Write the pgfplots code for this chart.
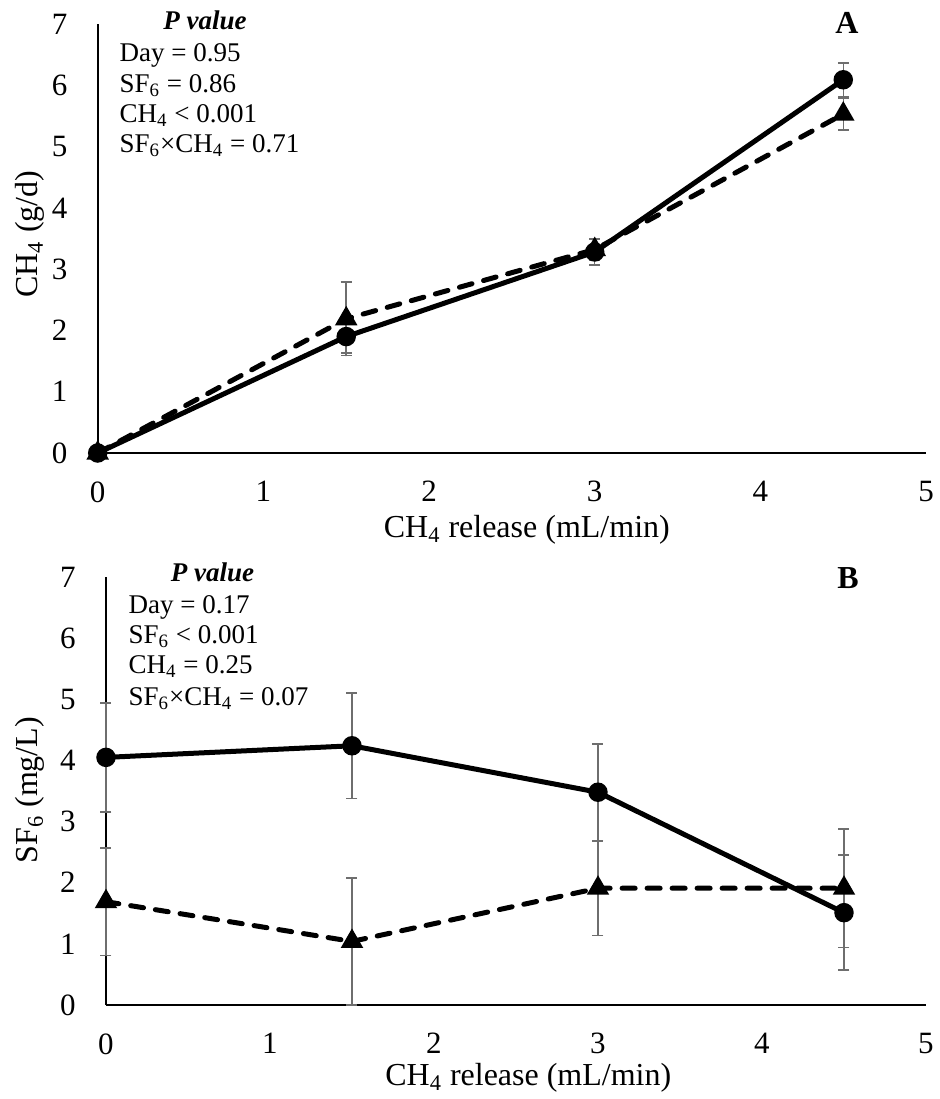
\documentclass[border=0pt]{standalone}
\usepackage{fontspec}
\setmainfont{Liberation Serif}
\usepackage{pgfplots}
\pgfplotsset{compat=1.18}

\definecolor{errgray}{RGB}{110,110,110}

\pgfplotsset{
  panel/.style={
    scale only axis,
    xmin=0, xmax=5, ymin=0, ymax=7,
    axis x line*=bottom, axis y line*=left,
    axis line style={-, line width=1pt, black},
    xtick={0,1,2,3,4,5}, ytick={0,1,2,3,4,5,6,7},
    major tick length=0pt,
    /pgf/number format/assume math mode=true,
    tick label style={font=\fontsize{15.5}{18}\selectfont},
    xticklabel style={inner sep=0pt, anchor=north, yshift=-14pt},
    yticklabel style={inner sep=0pt, anchor=east, xshift=-15pt},
    label style={font=\fontsize{16}{19}\selectfont},
    clip=false,
  },
  errs/.style={
    error bars/.cd, y dir=both, y explicit,
    error bar style={errgray, line width=0.75pt, solid},
    error mark options={errgray, rotate=90, mark size=2.75pt, line width=0.75pt, solid},
  },
  circser/.style={black, line width=2.5pt, mark=*, mark size=3.6pt, mark options={solid}, errs},
  triser/.style={black, line width=2.5pt, line cap=round, dash pattern=on 6.5pt off 6pt,
    mark=triangle*, mark size=4pt, mark options={solid}, errs},
}

\newcommand{\pfont}{\fontsize{13.5}{16}\selectfont}

\begin{document}
\begin{tikzpicture}
\path[use as bounding box] (0,0) rectangle (469.5pt,-549.5pt);

% Panel A: CH4 recovered
\begin{axis}[panel, at={(48.85pt,-226.5pt)}, anchor=south west,
    width=414.2pt, height=214.5pt,
    xlabel={CH\textsubscript{4} release (mL/min)},
    ylabel={CH\textsubscript{4} (g/d)},
    xlabel style={at={(axis description cs:0.518,-0.196)}, anchor=base},
    ylabel style={at={(axis description cs:-0.0817,0.51)}, anchor=center, rotate=0},
]
\addplot[triser] coordinates {
  (0,0) +- (0,0.05)
  (1.5,2.19) +- (0,0.60)
  (3,3.32) +- (0,0.18)
  (4.5,5.53) +- (0,0.26)
};
\addplot[circser] coordinates {
  (0,0) +- (0,0.05)
  (1.5,1.90) +- (0,0.27)
  (3,3.28) +- (0,0.21)
  (4.5,6.09) +- (0,0.27)
};
\end{axis}

% Panel B: SF6 concentration
\begin{axis}[panel, at={(53pt,-502.5pt)}, anchor=south west,
    width=410pt, height=214pt,
    xlabel={CH\textsubscript{4} release (mL/min)},
    ylabel={SF\textsubscript{6} (mg/L)},
    xlabel style={at={(axis description cs:0.515,-0.187)}, anchor=base},
    ylabel style={at={(axis description cs:-0.0927,0.502)}, anchor=center, rotate=0},
]
\addplot[triser] coordinates {
  (0,1.69) +- (0,0.88)
  (1.5,1.04) +- (0,1.04)
  (3,1.91) +- (0,0.77)
  (4.5,1.91) +- (0,0.97)
};
\addplot[circser] coordinates {
  (0,4.05) +- (0,0.89)
  (1.5,4.24) +- (0,0.86)
  (3,3.48) +- (0,0.79)
  (4.5,1.51) +- (0,0.94)
};
\end{axis}

% P value boxes and panel letters
\node[font=\pfont\bfseries\itshape, anchor=base] at (102.5pt,-14.65pt) {P value};
\node[font=\pfont, anchor=base west, inner sep=0pt] at (59.65pt,-30.85pt) {Day = 0.95};
\node[font=\pfont, anchor=base west, inner sep=0pt] at (59.65pt,-46pt) {SF\textsubscript{6} = 0.86};
\node[font=\pfont, anchor=base west, inner sep=0pt] at (59.65pt,-61pt) {CH\textsubscript{4} < 0.001};
\node[font=\pfont, anchor=base west, inner sep=0pt] at (59.65pt,-76.25pt) {SF\textsubscript{6}×CH\textsubscript{4} = 0.71};
\node[font=\fontsize{16}{19}\selectfont\bfseries] at (423.5pt,-11.5pt) {A};

\node[font=\pfont\bfseries\itshape, anchor=base] at (106.25pt,-290.85pt) {P value};
\node[font=\pfont, anchor=base west, inner sep=0pt] at (64.15pt,-306.65pt) {Day = 0.17};
\node[font=\pfont, anchor=base west, inner sep=0pt] at (64.15pt,-321.65pt) {SF\textsubscript{6} < 0.001};
\node[font=\pfont, anchor=base west, inner sep=0pt] at (64.15pt,-336.65pt) {CH\textsubscript{4} = 0.25};
\node[font=\pfont, anchor=base west, inner sep=0pt] at (64.15pt,-352.5pt) {SF\textsubscript{6}×CH\textsubscript{4} = 0.07};
\node[font=\fontsize{16}{19}\selectfont\bfseries] at (424pt,-289pt) {B};
\end{tikzpicture}
\end{document}
